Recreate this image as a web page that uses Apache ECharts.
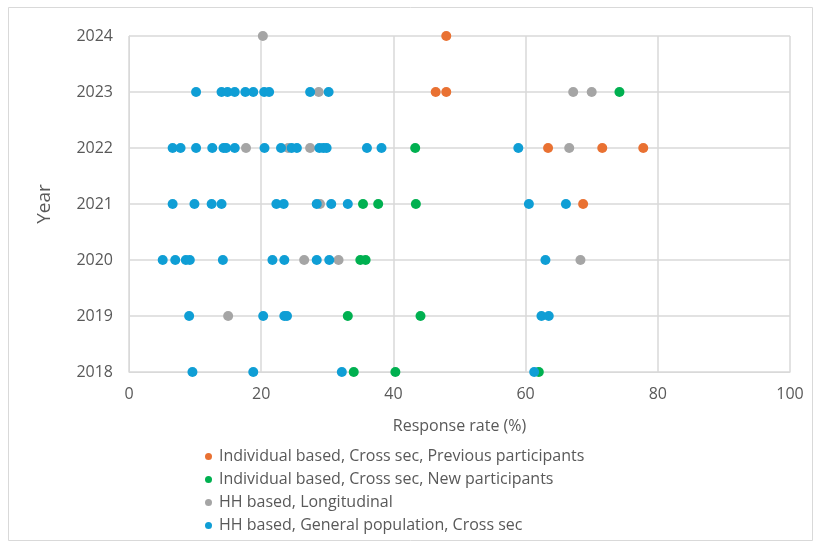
<!DOCTYPE html>
<html>
<head>
<meta charset="utf-8">
<script src="https://cdn.jsdelivr.net/npm/echarts@6/dist/echarts.min.js"></script>
<style>
  html, body { margin: 0; padding: 0; background: #fff; }
  #chart { width: 821px; height: 546px; }
</style>
</head>
<body>
<div id="chart"></div>
<script>
// Series names shown in the legend
const seriesNames = [
  'Individual based, Cross sec, Previous participants',
  'Individual based, Cross sec, New participants',
  'HH based, Longitudinal',
  'HH based, General population, Cross sec'
];
const seriesColors = ['#E97132', '#00B050', '#A5A5A5', '#0F9ED5'];

// [response rate %, year]
const prevParticipants = [
  [48.0, 2024],
  [46.4, 2023], [48.0, 2023],
  [63.4, 2022], [71.6, 2022], [77.8, 2022],
  [68.7, 2021]
];
const newParticipants = [
  [74.2, 2023],
  [43.3, 2022],
  [35.4, 2021], [37.7, 2021], [43.4, 2021],
  [35.0, 2020], [35.8, 2020],
  [33.1, 2019], [44.1, 2019],
  [34.0, 2018], [40.3, 2018], [62.0, 2018]
];
const hhLongitudinal = [
  [20.25, 2024],
  [28.7, 2023], [67.2, 2023], [70.0, 2023],
  [17.7, 2022], [24.1, 2022], [27.4, 2022], [66.6, 2022],
  [28.9, 2021],
  [26.5, 2020], [31.7, 2020], [68.3, 2020],
  [15.0, 2019]
];
const hhGeneral = [
  [10.15, 2023], [14.0, 2023], [14.9, 2023], [16.0, 2023], [17.6, 2023],
  [18.8, 2023], [20.45, 2023], [21.2, 2023], [27.4, 2023], [30.2, 2023],
  [6.6, 2022], [7.8, 2022], [10.15, 2022], [12.6, 2022], [14.3, 2022],
  [14.7, 2022], [16.0, 2022], [20.5, 2022], [23.0, 2022], [24.6, 2022],
  [25.4, 2022], [28.8, 2022], [29.4, 2022], [29.9, 2022], [36.0, 2022],
  [38.2, 2022], [58.9, 2022],
  [6.6, 2021], [9.9, 2021], [12.5, 2021], [14.0, 2021], [22.3, 2021],
  [23.4, 2021], [28.4, 2021], [30.6, 2021], [33.1, 2021], [60.5, 2021],
  [66.1, 2021],
  [5.1, 2020], [7.0, 2020], [8.6, 2020], [9.2, 2020], [14.2, 2020],
  [21.7, 2020], [23.5, 2020], [28.4, 2020], [30.3, 2020], [63.0, 2020],
  [9.1, 2019], [20.3, 2019], [23.5, 2019], [23.9, 2019], [62.4, 2019],
  [63.5, 2019],
  [9.6, 2018], [18.8, 2018], [32.2, 2018], [61.3, 2018]
];
const seriesData = [prevParticipants, newParticipants, hhLongitudinal, hhGeneral];

const xTitle = 'Response rate (%)';
const yTitle = 'Year';

const FONT = '"Open Sans", "Noto Sans", sans-serif';
const TEXT = '#595959';
const GRID = '#D9D9D9';

const chart = echarts.init(document.getElementById('chart'), null, { renderer: 'canvas' });

chart.setOption({
  animation: false,
  backgroundColor: '#fff',
  textStyle: { fontFamily: FONT },
  graphic: [{
    type: 'rect',
    shape: { x: 8.5, y: 7.5, width: 804, height: 533 },
    style: { fill: 'none', stroke: GRID, lineWidth: 1 },
    silent: true
  }],
  grid: { left: 129, right: 31, top: 36, bottom: 174 },
  xAxis: {
    type: 'value',
    min: 0, max: 100, interval: 20,
    name: xTitle,
    nameLocation: 'middle',
    nameGap: 46,
    nameTextStyle: { color: TEXT, fontSize: 16, fontFamily: FONT },
    axisLine: { show: true, lineStyle: { color: GRID, width: 1 } },
    axisTick: { show: false },
    axisLabel: { color: TEXT, fontSize: 16, fontFamily: FONT, margin: 14 },
    splitLine: { show: true, lineStyle: { color: GRID, width: 1.5 } }
  },
  yAxis: {
    type: 'value',
    min: 2018, max: 2024, interval: 1,
    name: yTitle,
    nameLocation: 'middle',
    nameGap: 75,
    nameTextStyle: { color: TEXT, fontSize: 19, fontFamily: FONT },
    axisLine: { show: true, lineStyle: { color: GRID, width: 1 } },
    axisTick: { show: false },
    axisLabel: { color: TEXT, fontSize: 16, fontFamily: FONT, margin: 16,
                 formatter: v => String(v) },
    splitLine: { show: true, lineStyle: { color: GRID, width: 1.5 } }
  },
  legend: {
    orient: 'vertical',
    left: 200,
    top: 443,
    itemGap: 6,
    itemWidth: 7,
    itemHeight: 7,
    icon: 'circle',
    data: seriesNames,
    textStyle: { color: TEXT, fontSize: 16, fontFamily: FONT, lineHeight: 17, padding: [0, 0, 0, 2] }
  },
  series: seriesNames.map((name, i) => ({
    name,
    type: 'scatter',
    data: seriesData[i],
    symbol: 'circle',
    symbolSize: 10,
    z: 2 + i,
    itemStyle: { color: seriesColors[i], opacity: 1 }
  }))
});
</script>
</body>
</html>
